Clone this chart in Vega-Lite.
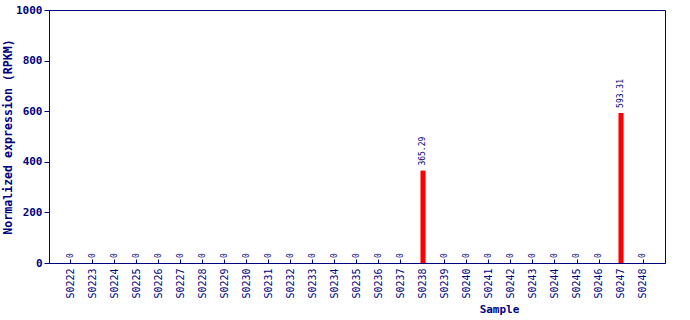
{
  "$schema": "https://vega.github.io/schema/vega-lite/v6.json",
  "width": 616,
  "height": 253,
  "autosize": {"type": "none"},
  "padding": {"left": 49, "top": 10, "right": 25, "bottom": 57},
  "background": "white",
  "config": {
    "view": {"stroke": "#000080", "strokeWidth": 1},
    "axis": {"grid": false, "domainColor": "#000080", "tickColor": "#000080", "labelColor": "#000080", "titleColor": "#000080", "labelFont": "DejaVu Sans Mono", "titleFont": "DejaVu Sans Mono"}
  },
  "data": {"values": [
    {"sample": "S0222", "value": 0},
    {"sample": "S0223", "value": 0},
    {"sample": "S0224", "value": 0},
    {"sample": "S0225", "value": 0},
    {"sample": "S0226", "value": 0},
    {"sample": "S0227", "value": 0},
    {"sample": "S0228", "value": 0},
    {"sample": "S0229", "value": 0},
    {"sample": "S0230", "value": 0},
    {"sample": "S0231", "value": 0},
    {"sample": "S0232", "value": 0},
    {"sample": "S0233", "value": 0},
    {"sample": "S0234", "value": 0},
    {"sample": "S0235", "value": 0},
    {"sample": "S0236", "value": 0},
    {"sample": "S0237", "value": 0},
    {"sample": "S0238", "value": 365.29},
    {"sample": "S0239", "value": 0},
    {"sample": "S0240", "value": 0},
    {"sample": "S0241", "value": 0},
    {"sample": "S0242", "value": 0},
    {"sample": "S0243", "value": 0},
    {"sample": "S0244", "value": 0},
    {"sample": "S0245", "value": 0},
    {"sample": "S0246", "value": 0},
    {"sample": "S0247", "value": 593.31},
    {"sample": "S0248", "value": 0}
  ]},
  "encoding": {
    "x": {
      "field": "sample", "type": "nominal", "sort": null,
      "scale": {"paddingInner": 0.77, "paddingOuter": 0.885},
      "axis": {"title": "Sample", "labelAngle": 270, "labelAlign": "right", "labelBaseline": "middle", "labelFontSize": 10, "ticks": true, "tickSize": -4, "tickWidth": 1, "labelPadding": 9, "titleFontSize": 11, "titleFontWeight": "bold", "titleX": 450, "titleAnchor": "middle", "titlePadding": 5}
    },
    "y": {
      "field": "value", "type": "quantitative",
      "scale": {"domain": [0, 1000], "nice": false},
      "axis": {"title": "Normalized expression (RPKM)", "values": [0, 200, 400, 600, 800, 1000], "format": "d", "labelFontSize": 11, "labelFontWeight": "bold", "tickSize": 5, "labelPadding": 2, "titleFontSize": 11.6, "titleFontWeight": "bold", "titleX": -41, "titleBaseline": "middle"}
    }
  },
  "layer": [
    {"mark": {"type": "bar", "color": "#ff0000"}},
    {"mark": {"type": "text", "angle": 270, "align": "left", "baseline": "middle", "dx": 5, "fontSize": 8, "font": "DejaVu Sans Mono", "color": "#000080"},
     "encoding": {"text": {"field": "value", "type": "quantitative", "format": ".2~f"}}}
  ]
}
